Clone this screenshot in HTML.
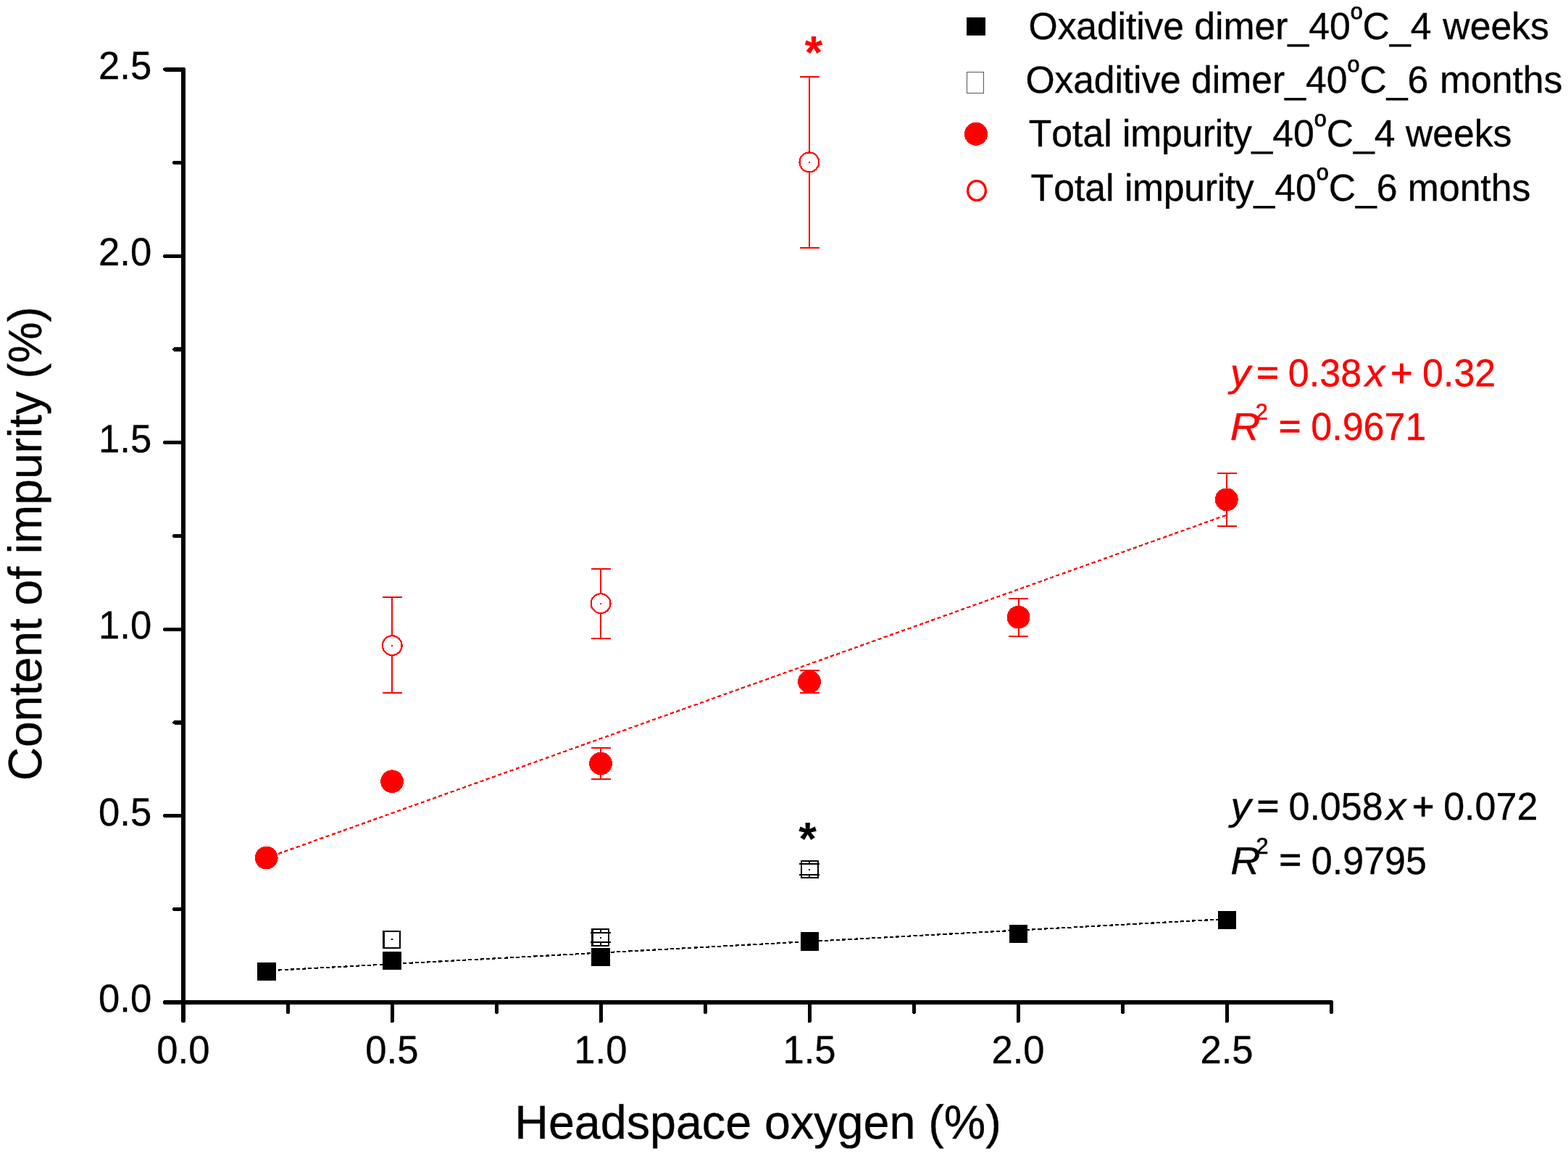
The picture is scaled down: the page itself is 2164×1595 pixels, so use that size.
<!DOCTYPE html>
<html lang="en"><head><meta charset="utf-8"><title>Content of impurity vs headspace oxygen</title>
<style>
html,body{margin:0;padding:0;background:#fff;}
body{width:2164px;height:1595px;overflow:hidden;}
svg{display:block;}
text{font-family:"Liberation Sans",sans-serif;font-kerning:none;font-variant-ligatures:none;text-rendering:geometricPrecision;shape-rendering:auto;}
.tk{font-size:52.6px;fill:#000;stroke:#000;stroke-width:0.35px;}
.ttl{font-size:64.6px;fill:#000;stroke:#000;stroke-width:0.35px;}
.lg{font-size:51.7px;fill:#000;stroke:#000;stroke-width:0.35px;}
.eq{font-size:52px;}
.it{font-style:italic;}
.sup{font-size:30.5px;stroke-width:0.9px;}
.ax{stroke:#000;stroke-width:6;stroke-linecap:round;fill:none;}
</style></head><body>
<svg width="2164" height="1595" viewBox="0 0 2164 1595" shape-rendering="crispEdges">
<rect width="2164" height="1595" fill="#fff"/>
<g class="ax">
<path d="M253.2 95.9V1408.4"/>
<path d="M228.1 1383.0H1837.3"/>
</g>
<g class="ax" stroke-width="5.2" style="stroke-width:5.2">
<path d="M240.9 1254.3H251.7"/>
<path d="M227.8 1125.6H251.7"/>
<path d="M240.9 996.9H251.7"/>
<path d="M227.8 868.2H251.7"/>
<path d="M240.9 739.4H251.7"/>
<path d="M227.8 610.7H251.7"/>
<path d="M240.9 482.0H251.7"/>
<path d="M227.8 353.3H251.7"/>
<path d="M240.9 224.6H251.7"/>
<path d="M227.8 95.9H251.7"/>
<path d="M541.2 1384.5V1408.7"/>
<path d="M829.2 1384.5V1408.7"/>
<path d="M1117.3 1384.5V1408.7"/>
<path d="M1405.3 1384.5V1408.7"/>
<path d="M1693.3 1384.5V1408.7"/>
<path d="M397.2 1384.5V1396.3"/>
<path d="M685.2 1384.5V1396.3"/>
<path d="M973.2 1384.5V1396.3"/>
<path d="M1261.3 1384.5V1396.3"/>
<path d="M1549.3 1384.5V1396.3"/>
<path d="M1837.3 1384.5V1396.3"/>
</g>
<g class="tk" text-anchor="end">
<text transform="translate(209.2 1396.1) scale(1 1.03)">0.0</text>
<text transform="translate(209.2 1138.7) scale(1 1.03)">0.5</text>
<text transform="translate(209.2 881.3) scale(1 1.03)">1.0</text>
<text transform="translate(209.2 623.8) scale(1 1.03)">1.5</text>
<text transform="translate(209.2 366.4) scale(1 1.03)">2.0</text>
<text transform="translate(209.2 109.0) scale(1 1.03)">2.5</text>
</g>
<g class="tk" text-anchor="middle">
<text transform="translate(252.9 1467.0) scale(1 1.03)">0.0</text>
<text transform="translate(540.9 1467.0) scale(1 1.03)">0.5</text>
<text transform="translate(828.9 1467.0) scale(1 1.03)">1.0</text>
<text transform="translate(1117.0 1467.0) scale(1 1.03)">1.5</text>
<text transform="translate(1405.0 1467.0) scale(1 1.03)">2.0</text>
<text transform="translate(1693.0 1467.0) scale(1 1.03)">2.5</text>
</g>
<text class="ttl" text-anchor="middle" transform="translate(1046.0 1571.2) scale(1 1.015)">Headspace oxygen (%)</text>
<text class="ttl" style="font-size:64px" transform="translate(57.3 750.1) rotate(-90) scale(1 1.015)" text-anchor="middle">Content of impurity (%)</text>
<path d="M367.7 1183.8L1692.8 710.6" stroke="#f00" stroke-width="2.3" stroke-dasharray="5.2 3.5" fill="none"/>
<path d="M368 1339.4L1693 1268.0" stroke="#000" stroke-width="2.2" stroke-dasharray="5.1 3.1" fill="none"/>
<rect x="529.6" y="1284.9" width="22.8" height="22.8" fill="#fff" stroke="#000" stroke-width="2.2"/>
<rect x="540.0" y="1295.3" width="2" height="2" fill="#000"/>
<rect x="817.5" y="1282.3" width="22.8" height="22.8" fill="#fff" stroke="#000" stroke-width="2.2"/>
<path d="M814.9 1287.4h28M814.9 1300.0h28M828.9 1282.3V1287.4M828.9 1300.0V1305.1" stroke="#000" stroke-width="2" fill="none"/>
<rect x="827.9" y="1292.7" width="2" height="2" fill="#000"/>
<rect x="1105.8" y="1188.1" width="22.8" height="22.8" fill="#fff" stroke="#000" stroke-width="2.2"/>
<path d="M1103.2 1191.5h28M1103.2 1207.4h28M1117.2 1188.1V1191.5M1117.2 1207.4V1210.9" stroke="#000" stroke-width="2" fill="none"/>
<rect x="1116.2" y="1198.5" width="2" height="2" fill="#000"/>
<rect x="355.3" y="1328.0" width="25.4" height="25.4" fill="#000"/>
<rect x="528.3" y="1312.7" width="25.4" height="25.4" fill="#000"/>
<rect x="816.2" y="1307.8" width="25.4" height="25.4" fill="#000"/>
<rect x="1104.5" y="1286.2" width="25.4" height="25.4" fill="#000"/>
<rect x="1392.5" y="1275.7" width="25.4" height="25.4" fill="#000"/>
<rect x="1680.5" y="1256.8" width="25.4" height="25.4" fill="#000"/>
<path d="M541.2 823.8V956.1M527.9 823.8h27.0M527.9 956.1h27.0" stroke="#f00" stroke-width="2.0" fill="none"/>
<circle cx="541.2" cy="890.6" r="13.4" fill="#fff" stroke="#f00" stroke-width="2.2"/>
<rect x="540.2" y="889.6" width="2" height="2" fill="#f00"/>
<path d="M829.1 784.8V880.9M815.8 784.8h27.0M815.8 880.9h27.0" stroke="#f00" stroke-width="2.0" fill="none"/>
<circle cx="829.1" cy="832.6" r="13.4" fill="#fff" stroke="#f00" stroke-width="2.2"/>
<rect x="828.1" y="831.6" width="2" height="2" fill="#f00"/>
<path d="M1116.9 106.0V341.8M1103.6 106.0h27.0M1103.6 341.8h27.0" stroke="#f00" stroke-width="2.0" fill="none"/>
<circle cx="1116.9" cy="223.8" r="13.4" fill="#fff" stroke="#f00" stroke-width="2.2"/>
<rect x="1115.9" y="222.8" width="2" height="2" fill="#f00"/>
<circle cx="367.7" cy="1183.6" r="15.9" fill="#f00"/>
<circle cx="541.1" cy="1078.2" r="15.9" fill="#f00"/>
<path d="M829.1 1031.9V1075.1M815.8 1031.9h27.0M815.8 1075.1h27.0" stroke="#f00" stroke-width="2.0" fill="none"/>
<circle cx="829.1" cy="1053.5" r="15.9" fill="#f00"/>
<path d="M1117.1 924.9V956.1M1103.8 924.9h27.0M1103.8 956.1h27.0" stroke="#f00" stroke-width="2.0" fill="none"/>
<circle cx="1117.1" cy="940.6" r="15.9" fill="#f00"/>
<path d="M1405.6 825.8V878.0M1392.3 825.8h27.0M1392.3 878.0h27.0" stroke="#f00" stroke-width="2.0" fill="none"/>
<circle cx="1405.6" cy="851.7" r="15.9" fill="#f00"/>
<path d="M1692.8 652.9V726.0M1679.5 652.9h27.0M1679.5 726.0h27.0" stroke="#f00" stroke-width="2.0" fill="none"/>
<circle cx="1692.8" cy="689.3" r="15.9" fill="#f00"/>
<text x="1110.48" y="94.29" font-size="63.5" font-weight="bold" fill="#f00">*</text>
<text x="1102.18" y="1179.09" font-size="63.5" font-weight="bold" fill="#000">*</text>
<rect x="1333.6" y="23.9" width="26.6" height="25.4" fill="#000"/>
<rect x="1334.4" y="99.3" width="23.2" height="28.8" fill="#fff" stroke="#555" stroke-width="1"/>
<circle cx="1347" cy="184.8" r="16" fill="#f00"/>
<ellipse cx="1348.0" cy="263.0" rx="12.4" ry="13.4" fill="#fff" stroke="#f00" stroke-width="3.4" shape-rendering="auto"/>
<text class="lg" transform="translate(1419.6 54.3) scale(1 1.015)"><tspan letter-spacing="-0.14">Oxaditive</tspan> dimer_40<tspan class="sup" dy="-28">o</tspan><tspan dy="28">C_4 <tspan dx="1.5">weeks</tspan></tspan></text>
<text class="lg" transform="translate(1415.5 127.5) scale(1 1.015)"><tspan letter-spacing="-0.14">Oxaditive</tspan> dimer_40<tspan class="sup" dy="-28">o</tspan><tspan dy="28">C_6 <tspan dx="1.2">months</tspan></tspan></text>
<text class="lg" transform="translate(1419.7 202.2) scale(1 1.015)">Total <tspan letter-spacing="-0.3">impurity</tspan>_40<tspan class="sup" dy="-28">o</tspan><tspan dy="28">C_4 weeks</tspan></text>
<text class="lg" transform="translate(1422.6 276.6) scale(1 1.015)">Total <tspan letter-spacing="-0.3">impurity</tspan>_40<tspan class="sup" dy="-28">o</tspan><tspan dy="28">C_6 months</tspan></text>
<g class="eq" fill="#f00" stroke="#f00" stroke-width="0.35"><text class="it" transform="translate(1697.80 533.0) scale(1.085 1.03)">y</text><text stroke-width="1.3" transform="translate(1734.26 529.6) scale(1.0 0.9)">=</text><text transform="translate(1777.87 533.0) scale(1.0 1.03)">0.38</text><text class="it" transform="translate(1883.71 533.0) scale(1.06 1.03)">x</text><text stroke-width="1.0" transform="translate(1919.16 533.0) scale(1.0 1.03)">+</text><text transform="translate(1963.07 533.0) scale(1.0 1.03)">0.32</text><text class="it" transform="translate(1697.74 607.0) scale(1.1 1.03)">R</text><text font-size="30.5" stroke-width="0.7" transform="translate(1732.77 579.2) scale(1.0 1.03)">2</text><text stroke-width="1.3" transform="translate(1764.96 603.6) scale(1.0 0.9)">=</text><text transform="translate(1809.27 607.0) scale(1.0 1.03)">0.9671</text></g>
<g class="eq" fill="#000" stroke="#000" stroke-width="0.35"><text class="it" transform="translate(1698.60 1131.0) scale(1.085 1.03)">y</text><text stroke-width="1.3" transform="translate(1734.86 1127.6) scale(1.0 0.9)">=</text><text transform="translate(1778.47 1131.0) scale(1.0 1.03)">0.058</text><text class="it" transform="translate(1912.81 1131.0) scale(1.06 1.03)">x</text><text stroke-width="1.0" transform="translate(1948.96 1131.0) scale(1.0 1.03)">+</text><text transform="translate(1992.17 1131.0) scale(1.0 1.03)">0.072</text><text class="it" transform="translate(1698.24 1205.5) scale(1.1 1.03)">R</text><text font-size="30.5" stroke-width="0.7" transform="translate(1733.47 1177.7) scale(1.0 1.03)">2</text><text stroke-width="1.3" transform="translate(1765.56 1202.1) scale(1.0 0.9)">=</text><text transform="translate(1809.87 1205.5) scale(1.0 1.03)">0.9795</text></g>
</svg>
</body></html>
